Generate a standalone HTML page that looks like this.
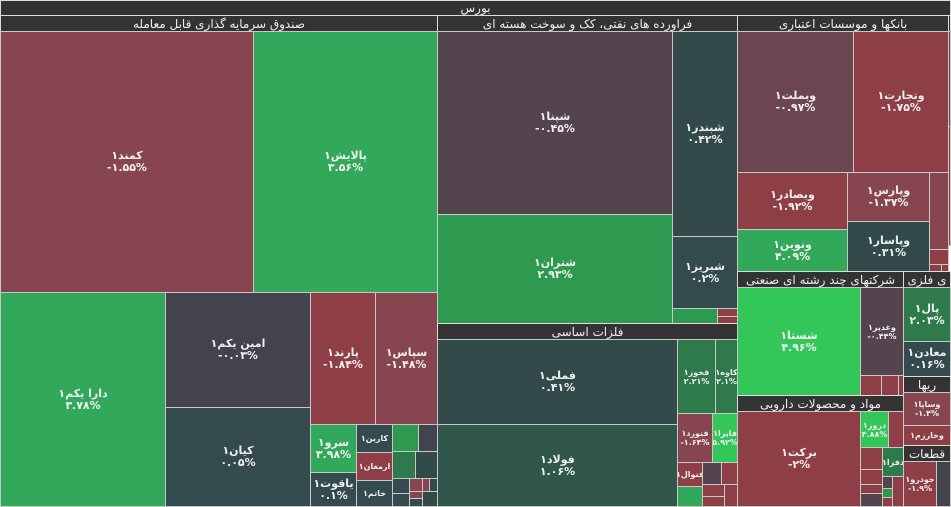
<!DOCTYPE html>
<html><head><meta charset="utf-8"><style>
body{margin:0;background:#fff;width:951px;height:507px;overflow:hidden;position:relative;font-family:"DejaVu Sans","Liberation Sans",sans-serif;}
div{position:absolute;box-sizing:border-box;border:1px solid #c8c8c8;color:#f0f0f0;display:flex;flex-direction:column;align-items:center;justify-content:center;text-align:center;font-size:11px;font-weight:bold;line-height:12px;overflow:hidden;direction:rtl;white-space:nowrap}
b{display:block;direction:ltr;unicode-bidi:isolate}
br{display:none}
.h{background:#333;color:#eee;font-size:12px;font-weight:normal;border-color:#ddd}
.s{font-size:8px;line-height:9px}
.r{background:#8e3e45}.m{background:#87464f}.p{background:#6b4650}.q{background:#54444e}
.g{background:#31a85a}.G{background:#33c75a}.d{background:#2e9a50}.e{background:#2e7a4a}
.k{background:#42434d}.t{background:#334a4a}.u{background:#334a4f}.v{background:#30574a}
</style></head><body>
<div class="h" style="left:0;top:0;width:951px;height:16px">بورس</div>
<div class="h" style="left:0;top:15px;width:438px;height:17px">صندوق سرمایه گذاری قابل معامله</div>
<div class="h" style="left:437px;top:15px;width:301px;height:17px">فراورده های نفتی، کک و سوخت هسته ای</div>
<div class="h" style="left:737px;top:15px;width:212px;height:17px">بانکها و موسسات اعتباری</div>
<div class="h" style="left:948px;top:15px;width:3px;height:17px"></div>

<div class="m" style="left:0;top:31px;width:254px;height:262px">کمند۱<br><b>-۱.۵۵%</b></div>
<div class="g" style="left:253px;top:31px;width:185px;height:262px">پالایش۱<br><b>۳.۵۶%</b></div>
<div class="g" style="left:0;top:292px;width:166px;height:215px">دارا یکم۱<br><b>۳.۷۸%</b></div>
<div class="k" style="left:165px;top:292px;width:146px;height:116px">امین یکم۱<br><b>-۰.۰۳%</b></div>
<div class="u" style="left:165px;top:407px;width:146px;height:100px">کیان۱<br><b>۰.۰۵%</b></div>
<div class="r" style="left:310px;top:292px;width:66px;height:133px">پارند۱<br><b>-۱.۸۴%</b></div>
<div class="m" style="left:375px;top:292px;width:63px;height:133px">سپاس۱<br><b>-۱.۴۸%</b></div>
<div class="g" style="left:310px;top:424px;width:47px;height:49px">سرو۱<br><b>۳.۹۸%</b></div>
<div class="u" style="left:310px;top:472px;width:47px;height:35px">یاقوت۱<br><b>۰.۱%</b></div>
<div class="u s" style="left:356px;top:424px;width:37px;height:29px">کارین۱</div>
<div class="r s" style="left:356px;top:452px;width:37px;height:29px">ارمغان۱</div>
<div class="u s" style="left:356px;top:480px;width:37px;height:27px">خاتم۱</div>
<div class="d" style="left:392px;top:424px;width:27px;height:28px"></div>
<div class="k" style="left:418px;top:424px;width:20px;height:28px"></div>
<div class="e" style="left:392px;top:451px;width:24px;height:28px"></div>
<div class="t" style="left:415px;top:451px;width:23px;height:28px"></div>
<div class="u" style="left:392px;top:478px;width:18px;height:16px"></div>
<div class="u" style="left:392px;top:493px;width:18px;height:14px"></div>
<div class="m" style="left:409px;top:478px;width:14px;height:14px"></div>
<div class="m" style="left:422px;top:478px;width:8px;height:14px"></div>
<div class="t" style="left:429px;top:478px;width:9px;height:14px"></div>
<div class="m" style="left:409px;top:491px;width:14px;height:8px"></div>
<div class="u" style="left:409px;top:498px;width:14px;height:9px"></div>
<div class="t" style="left:422px;top:491px;width:16px;height:16px"></div>

<div class="q" style="left:437px;top:31px;width:236px;height:184px">شپنا۱<br><b>-۰.۴۵%</b></div>
<div class="d" style="left:437px;top:214px;width:236px;height:110px">شتران۱<br><b>۲.۹۳%</b></div>
<div class="t" style="left:672px;top:31px;width:66px;height:206px">شبندر۱<br><b>۰.۴۲%</b></div>
<div class="u" style="left:672px;top:236px;width:66px;height:73px">شبریز۱<br><b>۰.۲%</b></div>
<div class="d" style="left:672px;top:308px;width:46px;height:16px"></div>
<div class="r" style="left:717px;top:308px;width:21px;height:9px"></div>
<div class="r" style="left:717px;top:316px;width:21px;height:8px"></div>
<div class="h" style="left:437px;top:323px;width:301px;height:17px">فلزات اساسی</div>
<div class="t" style="left:437px;top:339px;width:241px;height:86px">فملی۱<br><b>۰.۴۱%</b></div>
<div class="v" style="left:437px;top:424px;width:241px;height:83px">فولاد۱<br><b>۱.۰۶%</b></div>
<div class="e s" style="left:677px;top:339px;width:39px;height:75px">فخوز۱<br><b>۲.۲۱%</b></div>
<div class="e s" style="left:715px;top:339px;width:23px;height:75px">کاوه۱<br><b>۲.۱%</b></div>
<div class="m s" style="left:677px;top:413px;width:36px;height:50px">فنورد۱<br><b>-۱.۶۴%</b></div>
<div class="G s" style="left:712px;top:413px;width:26px;height:50px">فایرا۱<br><b>۵.۹۲%</b></div>
<div class="r s" style="left:677px;top:462px;width:26px;height:25px">فنوال۱</div>
<div class="q" style="left:702px;top:462px;width:20px;height:23px"></div>
<div class="r" style="left:721px;top:462px;width:17px;height:23px"></div>
<div class="g" style="left:677px;top:486px;width:26px;height:21px"></div>
<div class="r" style="left:702px;top:484px;width:23px;height:13px"></div>
<div class="r" style="left:702px;top:496px;width:23px;height:11px"></div>
<div class="r" style="left:724px;top:484px;width:14px;height:23px"></div>

<div class="p" style="left:737px;top:31px;width:117px;height:142px">وبملت۱<br><b>-۰.۹۷%</b></div>
<div class="r" style="left:853px;top:31px;width:96px;height:142px">وتجارت۱<br><b>-۱.۷۵%</b></div>
<div class="p" style="left:948px;top:31px;width:3px;height:96px"></div>
<div class="m" style="left:948px;top:126px;width:3px;height:120px"></div>
<div class="r" style="left:737px;top:172px;width:111px;height:58px">وبصادر۱<br><b>-۱.۹۲%</b></div>
<div class="g" style="left:737px;top:229px;width:111px;height:43px">ونوین۱<br><b>۴.۰۹%</b></div>
<div class="m" style="left:847px;top:172px;width:83px;height:50px">وپارس۱<br><b>-۱.۳۷%</b></div>
<div class="t" style="left:847px;top:221px;width:83px;height:51px">وپاسار۱<br><b>۰.۳۱%</b></div>
<div class="m" style="left:929px;top:172px;width:20px;height:78px"></div>
<div class="r" style="left:929px;top:249px;width:20px;height:16px"></div>
<div class="r" style="left:929px;top:264px;width:13px;height:8px"></div>
<div class="r" style="left:941px;top:264px;width:8px;height:8px"></div>
<div class="h" style="left:737px;top:271px;width:167px;height:17px">شرکتهای چند رشته ای صنعتی</div>
<div class="G" style="left:737px;top:287px;width:124px;height:109px">شستا۱<br><b>۴.۹۶%</b></div>
<div class="q s" style="left:860px;top:287px;width:44px;height:89px">وغدیر۱<br><b>-۰.۴۴%</b></div>
<div class="r" style="left:860px;top:375px;width:22px;height:21px"></div>
<div class="r" style="left:881px;top:375px;width:18px;height:21px"></div>
<div class="r" style="left:898px;top:375px;width:6px;height:21px"></div>
<div class="h" style="left:737px;top:395px;width:167px;height:17px">مواد و محصولات دارویی</div>
<div class="r" style="left:737px;top:411px;width:124px;height:96px">برکت۱<br><b>-۲%</b></div>
<div class="G s" style="left:860px;top:411px;width:29px;height:37px">دروز۱<br><b>۴.۸۸%</b></div>
<div class="r" style="left:888px;top:411px;width:16px;height:37px"></div>
<div class="r" style="left:860px;top:447px;width:23px;height:23px"></div>
<div class="e s" style="left:882px;top:447px;width:22px;height:30px">دفرا۱</div>
<div class="r" style="left:860px;top:469px;width:23px;height:16px"></div>
<div class="r" style="left:860px;top:484px;width:23px;height:10px"></div>
<div class="q" style="left:860px;top:493px;width:23px;height:14px"></div>
<div class="q" style="left:882px;top:476px;width:11px;height:13px"></div>
<div class="d" style="left:882px;top:488px;width:11px;height:10px"></div>
<div class="r" style="left:882px;top:497px;width:11px;height:10px"></div>
<div class="r" style="left:892px;top:476px;width:12px;height:31px"></div>

<div class="h" style="left:903px;top:271px;width:48px;height:17px">ی فلزی</div>
<div class="e" style="left:903px;top:287px;width:48px;height:55px">پال۱<br><b>۲.۰۳%</b></div>
<div class="u" style="left:903px;top:341px;width:48px;height:36px">معادن۱<br><b>۰.۱۶%</b></div>
<div class="h" style="left:903px;top:376px;width:48px;height:17px">ریها</div>
<div class="m s" style="left:903px;top:392px;width:48px;height:34px">وساپا۱<br><b>-۱.۴%</b></div>
<div class="r s" style="left:903px;top:425px;width:48px;height:21px">وخارزم۱</div>
<div class="h" style="left:903px;top:445px;width:48px;height:17px">قطعات</div>
<div class="r s" style="left:903px;top:461px;width:34px;height:46px">خودرو۱<br><b>-۱.۹%</b></div>
<div class="k" style="left:936px;top:461px;width:15px;height:46px"></div>
</body></html>
